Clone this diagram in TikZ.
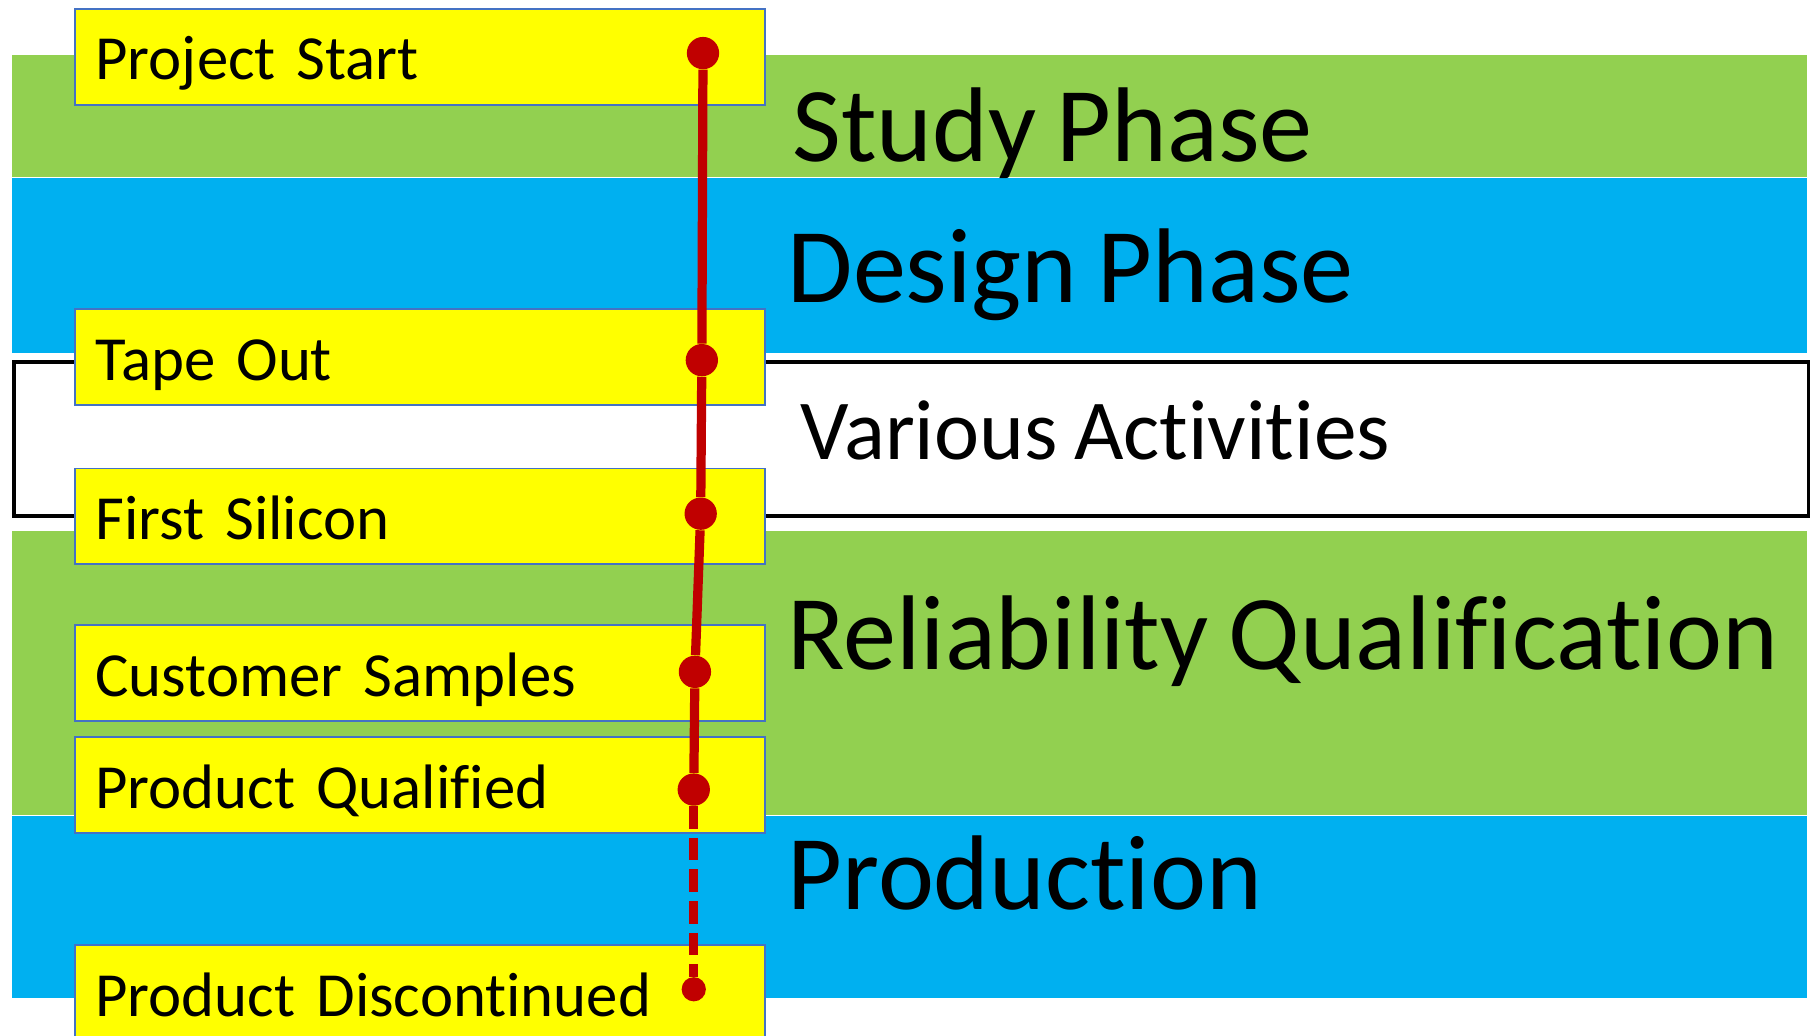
\documentclass[tikz,border=0pt]{standalone}
\usepackage{fontspec}
\setmainfont{Carlito}[Ligatures=NoCommon, WordSpace=0.85]
\usetikzlibrary{positioning}
\definecolor{phasegreen}{HTML}{92D050}
\definecolor{phaseblue}{HTML}{00B0F0}
\definecolor{milestoneyellow}{HTML}{FFFF00}
\definecolor{milestoneedge}{HTML}{4472C4}
\definecolor{timelinered}{HTML}{C00000}
\tikzset{
  phase band/.style={
    fill=#1,
    anchor=north west,
    inner sep=0pt,
    minimum width=777.5pt,
  },
  activity box/.style={
    draw=black,
    line width=1.75pt,
    anchor=north west,
    inner sep=0pt,
    minimum width=777.5pt,
  },
  phase title/.style={
    anchor=base west,
    inner sep=0pt,
    font=\fontsize{#1}{#1}\selectfont,
  },
  milestone/.style={
    fill=milestoneyellow,
    draw=milestoneedge,
    line width=0.75pt,
    anchor=north west,
    minimum height=41.5pt,
    text width=281pt,
    inner xsep=9pt,
    align=left,
    text height=22pt,
    text depth=2pt,
    font=\fontsize{27.2}{30}\selectfont,
  },
  milestone dot/.style={
    circle,
    fill=timelinered,
    inner sep=0pt,
    minimum size=#1,
  },
  milestone dot/.default=14pt,
  timeline/.style={
    draw=timelinered,
    line width=4pt,
  }
}

\begin{document}
\begin{tikzpicture}[x=0.5pt, y=-0.5pt]
    \useasboundingbox (0,0) rectangle (1568,897);

    % phases
    \node [phase band=phasegreen, minimum height=53pt] (study) at (10,47) {};
    \node [phase band=phaseblue, minimum height=76pt] (design) at (study.south west) {};
    \node [activity box, minimum height=66.5pt] (various) at (10,312) {};
    \node [phase band=phasegreen, minimum height=123pt] (reliability) at (10,460) {};
    \node [phase band=phaseblue, minimum height=78.5pt] (production) at (reliability.south west) {};

    \node [phase title=46] (study title) at (686,140) {Study Phase};
    \node [phase title=46] (design title) at (682,262) {Design Phase};
    \node [phase title=37] (various title) at (693,398) {Various Activities};
    \node [phase title=46] (reliability title) at (682,580) {Reliability Qualification};
    \node [phase title=46] (production title) at (682,788) {Production};

    % milestones
    \node [milestone] (start) at (64,7) {Project Start};
    \node [milestone] (tapeout) at (64,267) {Tape Out};
    \node [milestone] (silicon) at (64,405) {First Silicon};
    \node [milestone] (samples) at (64,541) {Customer Samples};
    \node [milestone] (qualified) at (64,638) {Product Qualified};
    \node [milestone] (discontinued) at (64,818) {Product Discontinued};

    \node [milestone dot] (start dot) at (609,46) {};
    \node [milestone dot] (tapeout dot) at (608,312) {};
    \node [milestone dot] (silicon dot) at (607,445) {};
    \node [milestone dot] (samples dot) at (602,582) {};
    \node [milestone dot] (qualified dot) at (601,684) {};
    \node [milestone dot=10.5pt] (discontinued dot) at (601,857) {};

    \draw [timeline] (start dot) -- (tapeout dot) -- (silicon dot) -- (samples dot) -- (qualified dot);
    \draw [timeline, dash pattern=on 9.8pt off 3.9pt] (qualified dot) -- (discontinued dot);
\end{tikzpicture}
\end{document}
